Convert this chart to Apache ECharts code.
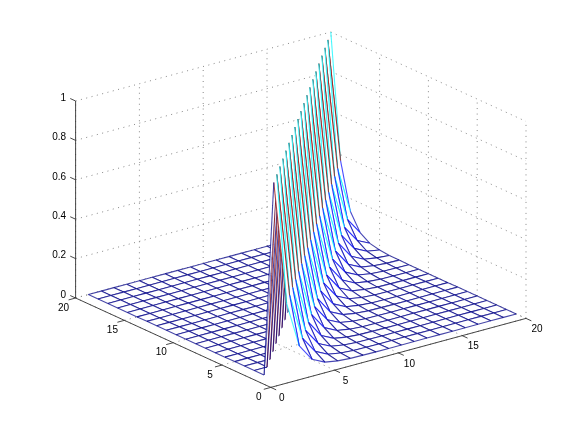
<!DOCTYPE html>
<html>
<head>
<meta charset="utf-8">
<script src="https://cdn.jsdelivr.net/npm/echarts@6/dist/echarts.min.js"></script>
<style>
  html, body { margin: 0; padding: 0; background: #fff; }
  #chart { width: 581px; height: 436px; }
</style>
</head>
<body>
<div id="chart"></div>
<script>
  // tick labels of the three axes
  const xTicks = [0, 5, 10, 15, 20]
  const yTicks = [0, 5, 10, 15, 20]
  const zTicks = [0, 0.2, 0.4, 0.6, 0.8, 1]

  // surface heights, one row per y = 1..20, columns x = 1..20
  const row01 = [1, .37, .135, .05, .018, .007, .002, .001, 0, 0, 0, 0, 0, 0, 0, 0, 0, 0, 0, 0]
  const row02 = [0, 1, .37, .135, .05, .018, .007, .002, .001, 0, 0, 0, 0, 0, 0, 0, 0, 0, 0, 0]
  const row03 = [0, 0, 1, .37, .135, .05, .018, .007, .002, .001, 0, 0, 0, 0, 0, 0, 0, 0, 0, 0]
  const row04 = [0, 0, 0, 1, .37, .135, .05, .018, .007, .002, .001, 0, 0, 0, 0, 0, 0, 0, 0, 0]
  const row05 = [0, 0, 0, 0, 1, .37, .135, .05, .018, .007, .002, .001, 0, 0, 0, 0, 0, 0, 0, 0]
  const row06 = [0, 0, 0, 0, 0, 1, .37, .135, .05, .018, .007, .002, .001, 0, 0, 0, 0, 0, 0, 0]
  const row07 = [0, 0, 0, 0, 0, 0, 1, .37, .135, .05, .018, .007, .002, .001, 0, 0, 0, 0, 0, 0]
  const row08 = [0, 0, 0, 0, 0, 0, 0, 1, .37, .135, .05, .018, .007, .002, .001, 0, 0, 0, 0, 0]
  const row09 = [0, 0, 0, 0, 0, 0, 0, 0, 1, .37, .135, .05, .018, .007, .002, .001, 0, 0, 0, 0]
  const row10 = [0, 0, 0, 0, 0, 0, 0, 0, 0, 1, .37, .135, .05, .018, .007, .002, .001, 0, 0, 0]
  const row11 = [0, 0, 0, 0, 0, 0, 0, 0, 0, 0, 1, .37, .135, .05, .018, .007, .002, .001, 0, 0]
  const row12 = [0, 0, 0, 0, 0, 0, 0, 0, 0, 0, 0, 1, .37, .135, .05, .018, .007, .002, .001, 0]
  const row13 = [0, 0, 0, 0, 0, 0, 0, 0, 0, 0, 0, 0, 1, .37, .135, .05, .018, .007, .002, .001]
  const row14 = [0, 0, 0, 0, 0, 0, 0, 0, 0, 0, 0, 0, 0, 1, .37, .135, .05, .018, .007, .002]
  const row15 = [0, 0, 0, 0, 0, 0, 0, 0, 0, 0, 0, 0, 0, 0, 1, .37, .135, .05, .018, .007]
  const row16 = [0, 0, 0, 0, 0, 0, 0, 0, 0, 0, 0, 0, 0, 0, 0, 1, .37, .135, .05, .018]
  const row17 = [0, 0, 0, 0, 0, 0, 0, 0, 0, 0, 0, 0, 0, 0, 0, 0, 1, .37, .135, .05]
  const row18 = [0, 0, 0, 0, 0, 0, 0, 0, 0, 0, 0, 0, 0, 0, 0, 0, 0, 1, .37, .135]
  const row19 = [0, 0, 0, 0, 0, 0, 0, 0, 0, 0, 0, 0, 0, 0, 0, 0, 0, 0, 1, .37]
  const row20 = [0, 0, 0, 0, 0, 0, 0, 0, 0, 0, 0, 0, 0, 0, 0, 0, 0, 0, 0, 1]
  const rows = [row01, row02, row03, row04, row05, row06, row07, row08, row09, row10,
    row11, row12, row13, row14, row15, row16, row17, row18, row19, row20]

  // view: where the box corners land, x/y/z axes are oblique in the page
  const origin = [270.8, 387.4]
  const ex = [12.76, -3.45]
  const ey = [-9.76, -4.47]
  const ez = -197
  const meshWidth = 1.1
  const meshOpacity = 0.72

  const project = (x, y, z) => [
    origin[0] + x * ex[0] + y * ey[0],
    origin[1] + x * ex[1] + y * ey[1] + z * ez,
  ]

  // matlab jet with 64 steps
  const jet = (v) => {
    const i = Math.min(63, Math.floor(v * 64))
    const t = (i + 0.5) / 64
    const c = (d) => Math.round(255 * Math.max(0, Math.min(1, 1.5 - Math.abs(4 * t - d))))
    return `rgb(${c(3)},${c(2)},${c(1)})`
  }

  // floor/wall dotted grid
  const dotted = []
  const addDotted = (a, b) => dotted.push([project(...a), project(...b)])
  xTicks.forEach((x) => {
    addDotted([x, 0, 0], [x, 20, 0])
    addDotted([x, 20, 0], [x, 20, 1])
  })
  yTicks.forEach((y) => {
    addDotted([0, y, 0], [20, y, 0])
    addDotted([20, y, 0], [20, y, 1])
  })
  zTicks.forEach((z) => {
    addDotted([0, 20, z], [20, 20, z])
    addDotted([20, 20, z], [20, 0, z])
  })

  // solid axes with ticks
  const solid = [
    [project(0, 0, 0), project(20, 0, 0)],
    [project(0, 0, 0), project(0, 20, 0)],
    [project(0, 20, 0), project(0, 20, 1)],
  ]
  xTicks.forEach((x) => solid.push([project(x, 0, 0), project(x, -0.55, 0)]))
  yTicks.forEach((y) => solid.push([project(0, y, 0), project(-0.55, y, 0)]))
  zTicks.forEach((z) => solid.push([project(0, 20, z), project(0, 20.55, z)]))

  // tick labels
  const labels = []
  xTicks.forEach((x) => {
    const p = project(x, 0, 0)
    labels.push({ value: [p[0] + 11, p[1] + 11], text: String(x), align: 'center' })
  })
  yTicks.forEach((y) => {
    const p = project(0, y, 0)
    labels.push({ value: [p[0] - 12, p[1] + 10], text: String(y), align: 'center' })
  })
  zTicks.forEach((z) => {
    const p = project(0, 20, z)
    labels.push({ value: [p[0] - 9.5, p[1] - 3], text: String(z), align: 'right' })
  })

  // one cell per grid square, far cells first so white faces hide what is behind
  const cells = []
  for (let j = 0; j < 19; j++) {
    for (let i = 0; i < 19; i++) {
      cells.push([i, j])
    }
  }
  const depth = (c) => c[0] * 3.45 + c[1] * 4.47
  cells.sort((a, b) => depth(b) - depth(a))
  const backCells = cells.filter((c) => c[1] > 0)
  const frontCells = cells.filter((c) => c[1] === 0)

  // ridge vertices whose floor-side edges only show below the first spike
  const ridge = []
  for (let d = 1; d < 19; d++) ridge.push([d])

  const at = (api, a, b) => api.coord(project(a + 1, b + 1, rows[b][a]))

  const segment = (a, b, stroke) => ({
    type: 'line',
    shape: { x1: a[0], y1: a[1], x2: b[0], y2: b[1] },
    style: { stroke, lineWidth: meshWidth, opacity: meshOpacity, fill: null },
  })

  const lineGroup = (list, style) => (params, api) => {
    const seg = list[params.dataIndex]
    const a = api.coord(seg[0])
    const b = api.coord(seg[1])
    return { type: 'line', shape: { x1: a[0], y1: a[1], x2: b[0], y2: b[1] }, style }
  }

  const renderCell = (params, api) => {
    const i = api.value(0)
    const j = api.value(1)
    const p00 = at(api, i, j)
    const p10 = at(api, i + 1, j)
    const p11 = at(api, i + 1, j + 1)
    const p01 = at(api, i, j + 1)
    const children = [
      { type: 'polygon', shape: { points: [p00, p10, p11, p01] }, style: { fill: '#fff', stroke: null } },
    ]
    if (i === j && i > 0) {
      // ridge cells fold over, close the notch under the spike
      children.push({ type: 'polygon', shape: { points: [p10, p11, p01] }, style: { fill: '#fff', stroke: null } })
    }
    // floor-to-ridge edges are left out here and drawn in the ridge pass
    if (j !== i + 1) {
      children.push(segment(p00, p10, jet(rows[j][i])))
      children.push(segment(p10, p11, jet(rows[j][i + 1])))
    }
    if (!(i === j && i > 0)) {
      children.push(segment(p00, p01, i === 0 && j === 0 ? jet(0) : jet(rows[j][i])))
    }
    if (i !== j) {
      children.push(segment(p01, p11, jet(rows[j + 1][i])))
    }
    return { type: 'group', children }
  }

  const renderRidge = (params, api) => {
    const d = api.value(0)
    const tip = at(api, d, d)
    return {
      type: 'group',
      clipPath: {
        type: 'polygon',
        shape: { points: [at(api, 0, 0), at(api, 1, 0), at(api, 6, 0), at(api, 0, 1)] },
      },
      children: [
        segment(tip, at(api, d - 1, d), jet(0)),
        segment(tip, at(api, d, d + 1), jet(1)),
      ],
    }
  }

  const chart = echarts.init(document.getElementById('chart'), null, { renderer: 'canvas' })
  chart.setOption({
    animation: false,
    backgroundColor: '#fff',
    grid: { left: 0, right: 0, top: 0, bottom: 0 },
    xAxis: { type: 'value', min: 0, max: 581, show: false },
    yAxis: { type: 'value', min: 0, max: 436, inverse: true, show: false },
    series: [
      {
        type: 'custom',
        coordinateSystem: 'cartesian2d',
        clip: false,
        silent: true,
        z: 1,
        data: dotted.map((s) => [s[0][0], s[0][1]]),
        renderItem: lineGroup(dotted, { stroke: '#888', lineWidth: 1, lineDash: [1, 4.5] }),
      },
      {
        type: 'custom',
        coordinateSystem: 'cartesian2d',
        clip: false,
        silent: true,
        z: 2,
        data: backCells,
        renderItem: renderCell,
      },
      {
        type: 'custom',
        coordinateSystem: 'cartesian2d',
        clip: false,
        silent: true,
        z: 3,
        data: ridge,
        renderItem: renderRidge,
      },
      {
        type: 'custom',
        coordinateSystem: 'cartesian2d',
        clip: false,
        silent: true,
        z: 4,
        data: frontCells,
        renderItem: renderCell,
      },
      {
        type: 'custom',
        coordinateSystem: 'cartesian2d',
        clip: false,
        silent: true,
        z: 5,
        data: solid.map((s) => [s[0][0], s[0][1]]),
        renderItem: lineGroup(solid, { stroke: '#333', lineWidth: 0.9 }),
      },
      {
        type: 'custom',
        coordinateSystem: 'cartesian2d',
        clip: false,
        silent: true,
        z: 6,
        data: labels.map((l) => l.value),
        renderItem: (params, api) => {
          const l = labels[params.dataIndex]
          const p = api.coord(l.value)
          return {
            type: 'text',
            style: {
              text: l.text,
              x: p[0],
              y: p[1],
              align: l.align,
              verticalAlign: 'middle',
              fill: '#000',
              font: '10px "Liberation Sans", Arial, sans-serif',
            },
          }
        },
      },
    ],
  })
  window.addEventListener('resize', function () {
    chart && chart.resize()
  })
</script>
</body>
</html>
